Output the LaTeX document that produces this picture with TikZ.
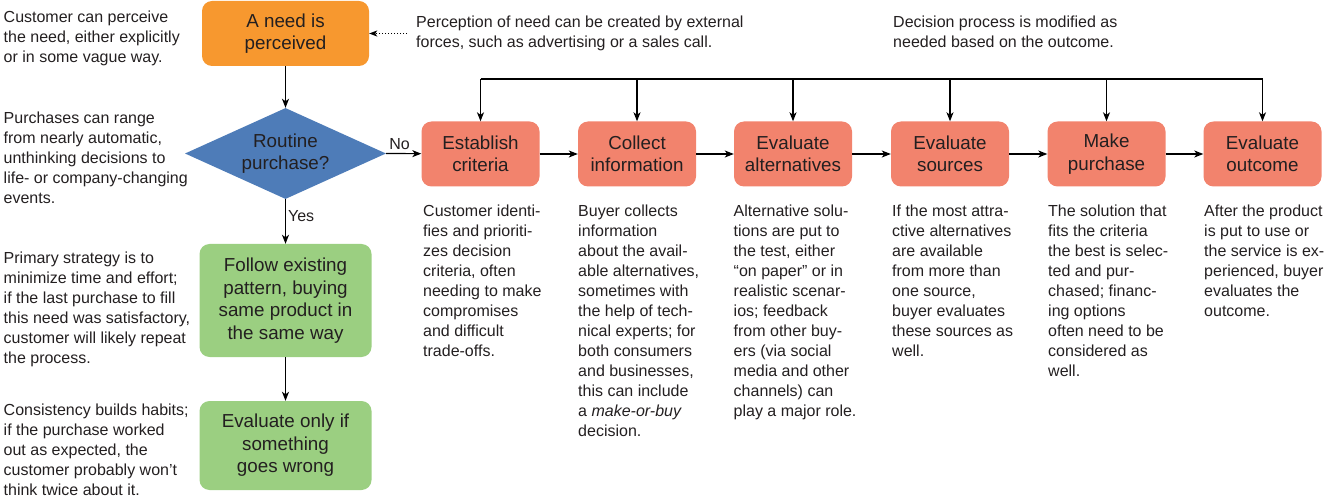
\documentclass[tikz,border=0pt]{standalone}
\usepackage{fontspec}
\setmainfont{Liberation Sans}
\usetikzlibrary{shapes.geometric,arrows.meta}
\definecolor{orangec}{HTML}{F7982F}
\definecolor{redc}{HTML}{F2836D}
\definecolor{bluec}{HTML}{4E7CB8}
\definecolor{greenc}{HTML}{9BCF81}
\definecolor{txt}{HTML}{231F20}
\begin{document}
\begin{tikzpicture}[x=1pt,y=-1pt,
  every node/.style={text=txt},
  note/.style={font=\fontsize{16}{20}\selectfont, align=left, inner sep=0pt, anchor=north west},
  boxbase/.style={rectangle, rounded corners=10pt, align=center, inner sep=0pt, font=\fontsize{18.8}{22.5}\selectfont},
  orangebox/.style={boxbase, fill=orangec, minimum width=167pt, minimum height=65pt},
  redbox/.style={boxbase, fill=redc, minimum width=118pt, minimum height=65pt},
  greenbox/.style={boxbase, fill=greenc, minimum width=172pt},
  decision/.style={diamond, aspect=2.2, fill=bluec, inner sep=0pt, align=center, font=\fontsize{18.8}{22.5}\selectfont, minimum width=201pt, minimum height=91pt},
  arr/.style={draw=black, line width=1.2pt, -{Stealth[length=9pt,width=7pt,inset=2.5pt]}},
  lbl/.style={font=\fontsize{16}{20}\selectfont, inner sep=2pt}
]
\useasboundingbox (0,0) rectangle (1324,502);

% main left column
\node[orangebox] (need) at (285.5,33.5) {A need is\\perceived};
\node[decision] (routine) at (285.5,153.5) {Routine\\purchase?};
\node[greenbox, minimum height=113pt] (follow) at (285.5,300.5) {Follow existing\\pattern, buying\\same product in\\the same way};
\node[greenbox, minimum height=89pt] (evalonly) at (285.5,445.5) {Evaluate only if\\something\\goes wrong};

% process row
\node[redbox] (crit) at (480.5,154) {Establish\\criteria};
\node[redbox] (info) at (637,154) {Collect\\information};
\node[redbox] (alt) at (793,154) {Evaluate\\alternatives};
\node[redbox] (src) at (950,154) {Evaluate\\sources};
\node[redbox] (buy) at (1106.5,154) {Make\\purchase};
\node[redbox] (out) at (1262.5,154) {Evaluate\\outcome};

% connectors
\draw[arr] (need) -- (routine);
\draw[arr] (routine) -- node[lbl, pos=0.38, anchor=west] {Yes} (follow);
\draw[arr] (follow) -- (evalonly);
\draw[arr] (routine.east) -- node[lbl, pos=0.38, anchor=south, inner sep=3pt] {No} (crit);
\draw[arr] (crit) -- (info);
\draw[arr] (info) -- (alt);
\draw[arr] (alt) -- (src);
\draw[arr] (src) -- (buy);
\draw[arr] (buy) -- (out);

% feedback line
\coordinate (fb) at (0,79);
\draw[line width=1.2pt] (crit.north |- fb) -- (out.north |- fb);
\foreach \n in {crit,info,alt,src,buy,out}
  \draw[arr] (\n.north |- fb) -- (\n.north);

% external forces dotted arrow
\coordinate (ext) at (407,33.5);
\draw[line width=1pt, dotted, -{Stealth[length=8pt,width=6pt,inset=2pt]}] (ext) -- (need.east);

% left notes
\node[note] (n1) at (3.5,10.5) {Customer can perceive\\the need, either explicitly\\or in some vague way.};
\node[note] (n2) at (3.5,111.5) {Purchases can range\\from nearly automatic,\\unthinking decisions to\\life- or company-changing\\events.};
\node[note] (n3) at (3.5,251.5) {Primary strategy is to\\minimize time and effort;\\if the last purchase to fill\\this need was satisfactory,\\customer will likely repeat\\the process.};
\node[note] (n4) at (3.5,403.5) {Consistency builds habits;\\if the purchase worked\\out as expected, the\\customer probably won’t\\think twice about it.};

% top notes
\node[note] (t1) at (416,16) {Perception of need can be created by external\\forces, such as advertising or a sales call.};
\node[note] (t2) at (893,16) {Decision process is modified as\\needed based on the outcome.};

% column notes
\node[note] (c1) at (423,205) {Customer identi-\\fies and prioriti-\\zes decision\\criteria, often\\needing to make\\compromises\\and difficult\\trade-offs.};
\node[note] (c2) at (578,205) {Buyer collects\\information\\about the avail-\\able alternatives,\\sometimes with\\the help of tech-\\nical experts; for\\both consumers\\and businesses,\\this can include\\a \textit{make-or-buy}\\decision.};
\node[note] (c3) at (733.5,205) {Alternative solu-\\tions are put to\\the test, either\\“on paper” or in\\realistic scenar-\\ios; feedback\\from other buy-\\ers (via social\\media and other\\channels) can\\play a major role.};
\node[note] (c4) at (892,205) {If the most attra-\\ctive alternatives\\are available\\from more than\\one source,\\buyer evaluates\\these sources as\\well.};
\node[note] (c5) at (1048,205) {The solution that\\fits the criteria\\the best is selec-\\ted and pur-\\chased; financ-\\ing options\\often need to be\\considered as\\well.};
\node[note] (c6) at (1204,205) {After the product\\is put to use or\\the service is ex-\\perienced, buyer\\evaluates the\\outcome.};
\end{tikzpicture}
\end{document}
